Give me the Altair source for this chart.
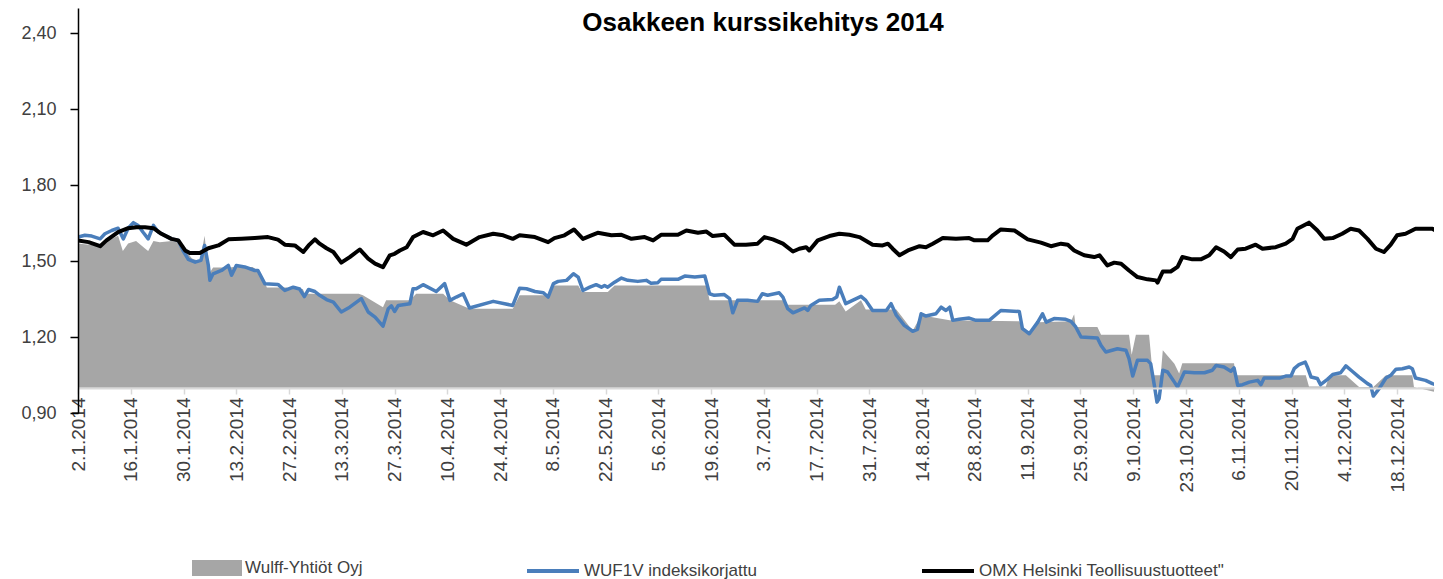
import altair as alt
import pandas as pd

TITLE = "Osakkeen kurssikehitys 2014"
SERIES = ["Wulff-Yhtiöt Oyj", "WUF1V indeksikorjattu", "OMX Helsinki Teollisuustuotteet\""]
X_LABELS = ["2.1.2014", "16.1.2014", "30.1.2014", "13.2.2014", "27.2.2014", "13.3.2014",
            "27.3.2014", "10.4.2014", "24.4.2014", "8.5.2014", "22.5.2014", "5.6.2014",
            "19.6.2014", "3.7.2014", "17.7.2014", "31.7.2014", "14.8.2014", "28.8.2014",
            "11.9.2014", "25.9.2014", "9.10.2014", "23.10.2014", "6.11.2014", "20.11.2014",
            "4.12.2014", "18.12.2014"]
Y_TICKS = [0.9, 1.2, 1.5, 1.8, 2.1, 2.4]

# Wulff-Yhtiöt Oyj (grey area): trading-day index, value
wulff_day = [0, 4.2, 5.4, 7.6, 8.5, 9.5, 11.0, 12.7, 13.3, 14.3, 15.5, 17.8, 19.0, 20.3, 21.6,
             23.1, 24.0, 24.7, 25.0, 25.6, 28.8, 29.4, 33.1, 34.5, 35.8, 39.6, 40.0, 42.6, 43.0,
             53.2, 54.0, 57.8, 58.4, 62.9, 64.1, 69.2, 70.5, 74.2, 82.4, 83.7, 89.1, 90.1, 94.8,
             95.5, 100.4, 101.7, 119.1, 119.7, 127.3, 129.7, 133.6, 134.2, 143.5, 144.3, 145.5,
             148.4, 149.3, 155.1, 158.2, 159.8, 165.2, 178.4, 179.0, 180.3, 181.9, 188.2, 188.8,
             189.1, 193.2, 193.9, 199.2, 199.7, 200.5, 203.0, 203.7, 205.2, 205.6, 207.8, 208.7,
             209.3, 219.1, 219.4, 232.7, 233.3, 236.5, 237.2, 240.3, 242.8, 245.5, 247.9, 252.9,
             253.2, 258.3]
wulff_val = [1.57, 1.56, 1.58, 1.60, 1.54, 1.57, 1.58, 1.55, 1.54, 1.58, 1.575, 1.58, 1.575, 1.545, 1.51,
             1.50, 1.60, 1.46, 1.455, 1.475, 1.475, 1.477, 1.477, 1.455, 1.396, 1.396, 1.39, 1.39, 1.371,
             1.371, 1.365, 1.318, 1.345, 1.345, 1.371, 1.371, 1.345, 1.312, 1.312, 1.365, 1.365, 1.404, 1.404,
             1.378, 1.378, 1.404, 1.404, 1.345, 1.345, 1.345, 1.345, 1.328, 1.328, 1.341, 1.301,
             1.345, 1.309, 1.309, 1.225, 1.286, 1.266, 1.262, 1.233, 1.213, 1.259, 1.262, 1.29,
             1.240, 1.240, 1.209, 1.209, 1.13, 1.209, 1.209, 1.049, 1.049, 1.148, 1.095, 1.056,
             1.097, 1.097, 1.049, 1.049, 1.005, 1.005, 1.049, 1.049, 1.003, 1.003, 1.049, 1.049,
             1.003, 0.977]

# WUF1V indeksikorjattu (blue line)
wuf_day = [0, 1.3, 2.6, 4.2, 5.1, 6.4, 7.6, 8.6, 9.5, 10.5, 11.4, 12.3, 13.3, 14.3, 15.2, 16.4, 17.7,
           19.0, 19.9, 20.9, 22.2, 23.3, 24.0, 24.7, 25.0, 25.6, 27.2, 28.5, 29.1, 30.0, 31.6, 33.5,
           34.1, 35.4, 37.9, 39.2, 40.8, 42.0, 42.9, 43.7, 44.9, 45.8, 47.1, 48.4, 49.9, 51.5, 53.7,
           55.0, 56.3, 57.8, 58.8, 59.4, 60.0, 60.7, 62.9, 63.5, 64.1, 65.4, 67.9, 69.5, 70.5, 71.7,
           73.0, 74.2, 78.7, 82.4, 83.7, 85.0, 86.6, 88.2, 89.1, 90.1, 91.0, 92.6, 93.9, 94.8, 95.7,
           97.0, 98.2, 99.2, 99.8, 100.4, 101.7, 103.0, 104.2, 106.1, 107.7, 108.6, 109.9, 110.5,
           113.7, 115.0, 116.9, 118.8, 119.7, 120.6, 122.5, 123.5, 124.1, 125.0, 126.9, 128.8,
           129.7, 130.7, 132.9, 133.6, 134.5, 135.5, 137.7, 138.3, 138.9, 140.5, 143.0, 143.8, 144.3,
           144.9, 145.5, 146.8, 148.4, 149.3, 150.6, 153.2, 154.1, 155.1, 156.6, 158.2, 159.1, 159.8,
           160.7, 162.6, 163.6, 164.5, 165.2, 165.8, 167.0, 168.9, 170.2, 172.7, 174.9, 178.4, 179.0,
           180.3, 181.9, 182.8, 183.5, 185.0, 187.2, 188.2, 189.1, 190.1, 193.2, 193.9, 194.8, 197.0,
           198.6, 199.2, 199.9, 200.8, 202.7, 203.3, 204.0, 204.5, 204.9, 205.6, 206.5, 207.8, 208.4,
           209.7, 211.6, 213.5, 215.0, 215.7, 217.2, 218.5, 219.1, 219.8, 220.7, 222.0, 223.6, 224.2,
           224.8, 227.7, 228.9, 229.9, 230.5, 231.4, 232.6, 233.0, 233.7, 234.9, 235.5, 236.8, 237.8,
           239.3, 240.3, 241.5, 242.8, 244.4, 245.0, 245.5, 246.6, 247.9, 248.8, 249.8, 251.0, 252.3,
           252.9, 253.5, 255.4, 256.7, 257.9, 258.5]
wuf_val = [1.595, 1.602, 1.599, 1.588, 1.608, 1.621, 1.630, 1.588, 1.630, 1.652, 1.641, 1.615, 1.588, 1.641, 1.615, 1.602, 1.588,
           1.582, 1.542, 1.507, 1.496, 1.503, 1.562, 1.483, 1.424, 1.450, 1.463, 1.483, 1.444, 1.483, 1.477, 1.463,
           1.463, 1.411, 1.408, 1.384, 1.397, 1.39, 1.36, 1.388, 1.380, 1.365, 1.348, 1.338, 1.299, 1.318, 1.352,
           1.299, 1.279, 1.243, 1.312, 1.323, 1.301, 1.325, 1.332, 1.391, 1.391, 1.407, 1.380, 1.411, 1.345, 1.358,
           1.371, 1.315, 1.341, 1.325, 1.393, 1.391, 1.380, 1.375, 1.358, 1.411, 1.420, 1.424, 1.450, 1.437, 1.384,
           1.397, 1.407, 1.397, 1.404, 1.397, 1.417, 1.433, 1.424, 1.420, 1.424, 1.413, 1.415, 1.428,
           1.428, 1.441, 1.437, 1.441, 1.371, 1.365, 1.368, 1.352, 1.296, 1.345, 1.345, 1.341,
           1.371, 1.365, 1.375, 1.358, 1.312, 1.296, 1.315, 1.305, 1.325, 1.345, 1.348, 1.358, 1.397,
           1.365, 1.332, 1.345, 1.361, 1.345, 1.305, 1.305, 1.332, 1.286, 1.246, 1.223, 1.230, 1.292,
           1.283, 1.292, 1.318, 1.305, 1.318, 1.266, 1.270, 1.275, 1.266, 1.266, 1.305, 1.301, 1.233,
           1.213, 1.259, 1.292, 1.259, 1.273, 1.270, 1.262, 1.240, 1.200, 1.196, 1.167, 1.141, 1.154,
           1.148, 1.115, 1.046, 1.108, 1.108, 1.095, 1.009, 0.943, 0.957, 1.069, 1.062, 1.022, 1.003,
           1.062, 1.059, 1.059, 1.069, 1.088, 1.082, 1.065, 1.078, 1.009, 1.012, 1.022, 1.029, 1.012,
           1.038, 1.038, 1.046, 1.046, 1.075, 1.091, 1.101, 1.082, 1.042, 1.036, 1.012, 1.033, 1.052,
           1.059, 1.086, 1.065, 1.042, 1.016, 1.009, 0.967, 0.996, 1.038, 1.049, 1.073, 1.075, 1.082,
           1.075, 1.038, 1.029, 1.016, 1.009, 1.016]

# OMX Helsinki Teollisuustuotteet (black line)
omx_day = [0, 2.0, 4.2, 5.4, 7.6, 9.5, 11.1, 12.7, 14.3, 15.8, 17.7, 19.0, 20.3, 21.2, 23.1, 24.7,
           26.6, 28.5, 31.0, 33.5, 36.0, 37.9, 39.2, 41.1, 42.7, 43.7, 44.9, 45.8, 47.1, 48.4, 49.9,
           51.5, 53.4, 55.0, 56.3, 57.8, 59.1, 60.0, 61.0, 62.3, 63.5, 65.4, 67.3, 69.2, 71.1, 73.6,
           76.1, 78.7, 80.6, 82.4, 83.7, 86.6, 89.1, 90.3, 92.2, 94.0, 95.7, 97.3, 98.5, 101.1,
           103.0, 104.9, 107.4, 109.0, 110.5, 113.7, 115.3, 117.5, 119.1, 120.3, 122.5, 124.4, 126.6,
           128.8, 130.1, 131.7, 133.6, 135.5, 136.7, 138.0, 138.6, 140.2, 142.4, 144.3, 146.2, 148.1,
           150.6, 152.5, 153.5, 154.4, 155.7, 157.3, 159.5, 160.7, 162.0, 163.9, 166.4, 168.9, 169.9,
           172.4, 173.4, 174.9, 177.5, 180.0, 182.5, 184.4, 186.3, 187.6, 188.8, 190.7, 192.6, 193.6,
           195.1, 196.4, 197.7, 199.2, 200.8, 202.7, 204.3, 204.6, 205.6, 207.1, 208.4, 209.3, 211.2,
           212.8, 214.4, 215.7, 217.2, 218.5, 219.8, 221.3, 223.2, 224.5, 227.0, 228.9, 230.2, 231.1,
           233.3, 234.9, 236.2, 237.8, 239.6, 241.2, 242.8, 244.4, 246.0, 247.5, 248.8, 250.0, 251.6,
           253.5, 256.7, 258.3]
omx_val = [1.582, 1.575, 1.559, 1.582, 1.615, 1.630, 1.634, 1.634, 1.630, 1.608, 1.588, 1.582, 1.542, 1.532, 1.532, 1.551,
           1.562, 1.586, 1.588, 1.591, 1.595, 1.585, 1.565, 1.562, 1.536, 1.562, 1.586, 1.569, 1.551, 1.536, 1.494,
           1.516, 1.546, 1.510, 1.490, 1.476, 1.523, 1.529, 1.542, 1.555, 1.595, 1.615, 1.602, 1.621, 1.588, 1.565,
           1.595, 1.608, 1.602, 1.588, 1.602, 1.595, 1.575, 1.591, 1.602, 1.625, 1.588, 1.602, 1.612, 1.602,
           1.604, 1.588, 1.595, 1.582, 1.604, 1.604, 1.621, 1.612, 1.617, 1.599, 1.604, 1.565, 1.565,
           1.569, 1.595, 1.586, 1.569, 1.538, 1.549, 1.555, 1.542, 1.582, 1.599, 1.608, 1.604, 1.595,
           1.565, 1.562, 1.569, 1.549, 1.523, 1.542, 1.559, 1.555, 1.569, 1.591, 1.588, 1.591, 1.582,
           1.582, 1.602, 1.625, 1.621, 1.586, 1.573, 1.559, 1.569, 1.565, 1.542, 1.523, 1.516, 1.523,
           1.483, 1.494, 1.490, 1.463, 1.437, 1.428, 1.424, 1.415, 1.459, 1.459, 1.477, 1.516, 1.507,
           1.507, 1.523, 1.555, 1.538, 1.516, 1.546, 1.549, 1.565, 1.549, 1.555, 1.569, 1.588, 1.628,
           1.652, 1.621, 1.588, 1.591, 1.608, 1.628, 1.621, 1.588, 1.549, 1.536, 1.565, 1.602, 1.608,
           1.628, 1.628, 1.608]

df_area = pd.DataFrame({"day": wulff_day, "value": wulff_val, "series": SERIES[0]})
df_wuf = pd.DataFrame({"day": wuf_day, "value": wuf_val, "series": SERIES[1]})
df_omx = pd.DataFrame({"day": omx_day, "value": omx_val, "series": SERIES[2]})
df_title = pd.DataFrame({"t": [TITLE]})

FONT = "Liberation Sans"
TXT = "#404040"
PLOT_W, PLOT_H = 1356, 405

x_scale = alt.Scale(domain=[0, 257], nice=False, zero=False)
y_scale = alt.Scale(domain=[0.9, 2.5], nice=False, zero=False)

label_js = "[" + ",".join("'" + s + "'" for s in X_LABELS) + "]"
x_axis = alt.Axis(values=[10 * k for k in range(len(X_LABELS))],
                  labelExpr=label_js + "[round(datum.value / 10)]",
                  labelAngle=270, labelFont=FONT, labelFontSize=19, labelColor=TXT,
                  labelPadding=3, labelOverlap=False, tickColor="#d9d9d9", tickSize=6,
                  tickWidth=1.5, domainColor="#d9d9d9", domainWidth=2, offset=-25,
                  grid=False, title=None, zindex=1)
y_axis = alt.Axis(values=Y_TICKS, labelExpr="replace(format(datum.value, '.2f'), '.', ',')",
                  labelFont=FONT, labelFontSize=18, labelColor=TXT, labelPadding=14,
                  tickColor="black", tickSize=8, tickWidth=1.5, domainColor="black",
                  domainWidth=1.5, grid=False, title=None, zindex=1)

area = alt.Chart(df_area).mark_area(clip=True, opacity=1, interpolate="linear").encode(
    x=alt.X("day:Q", scale=x_scale, axis=x_axis),
    y=alt.Y("value:Q", scale=y_scale, axis=y_axis),
    y2=alt.datum(1.0),
    fill=alt.Fill("series:N", scale=alt.Scale(domain=[SERIES[0]], range=["#a6a6a6"]),
                  legend=alt.Legend(orient="none", legendX=114, legendY=535, title=None,
                                    symbolType="M-1,-0.32H1V0.32H-1Z", symbolSize=2500,
                                    symbolStrokeWidth=0, symbolOpacity=1, labelFont=FONT,
                                    labelFontSize=17, labelColor=TXT, labelOffset=3,
                                    labelLimit=400, padding=0)),
)

stroke_enc = alt.Stroke("series:N", scale=alt.Scale(domain=SERIES[1:], range=["#4a7ebb", "#000000"]),
                        legend=alt.Legend(orient="none", legendX=447, legendY=535, title=None,
                                          direction="horizontal", columns=2, symbolType="stroke",
                                          symbolSize=2704, symbolStrokeWidth=4, labelFont=FONT,
                                          labelFontSize=17, labelColor=TXT, labelOffset=3,
                                          labelLimit=400, columnPadding=157, padding=0))

blue = alt.Chart(df_wuf).mark_line(clip=True, strokeWidth=3.5, strokeJoin="round").encode(
    x=alt.X("day:Q", scale=x_scale), y=alt.Y("value:Q", scale=y_scale), stroke=stroke_enc)
black = alt.Chart(df_omx).mark_line(clip=True, strokeWidth=4, strokeJoin="round").encode(
    x=alt.X("day:Q", scale=x_scale), y=alt.Y("value:Q", scale=y_scale), stroke=stroke_enc)

title = alt.Chart(df_title).mark_text(font=FONT, fontSize=26, fontWeight="bold", color="black",
                                      align="center", baseline="middle").encode(
    text="t:N", x=alt.value(685), y=alt.value(15))

chart = alt.layer(area, blue, black, title).properties(
    width=PLOT_W, height=PLOT_H,
    autosize=alt.AutoSizeParams(type="none"),
    padding={"left": 70, "top": 0, "right": 1, "bottom": 166},
).configure(background="white").configure_view(stroke="transparent", strokeWidth=0)

chart.save("out.html", embed_options={"renderer": "svg", "actions": False})
